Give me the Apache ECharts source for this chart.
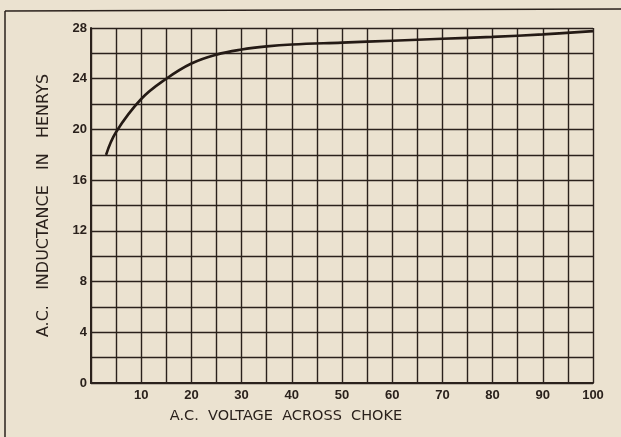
<!DOCTYPE html>
<html>
<head>
<meta charset="utf-8">
<script src="https://cdn.jsdelivr.net/npm/echarts@6/dist/echarts.min.js"></script>
<style>
  html, body { margin: 0; padding: 0; background: #ebe2d0; }
  #chart { width: 621px; height: 437px; }
</style>
</head>
<body>
<div id="chart"></div>
<script>
// A.C. voltage across choke (volts)
var voltage = [3, 5, 10, 15, 20, 25, 30, 35, 40, 50, 60, 70, 80, 90, 100];
// A.C. inductance (henrys)
var inductance = [18, 19.8, 22.4, 24.0, 25.2, 25.9, 26.3, 26.55, 26.7, 26.85, 27.0, 27.15, 27.3, 27.5, 27.75];
var xTickLabels = [10, 20, 30, 40, 50, 60, 70, 80, 90, 100];
var yTickLabels = [0, 4, 8, 12, 16, 20, 24, 28];

var ink = '#2a211c';
var font = '"Liberation Sans", Arial, sans-serif';
var nameFont = '"DejaVu Sans", sans-serif';

var points = voltage.map(function (v, i) { return [v, inductance[i]]; });

var chart = echarts.init(document.getElementById('chart'));
chart.setOption({
    backgroundColor: '#ebe2d0',
    animation: false,
    grid: { left: 91, right: 28, top: 28, bottom: 54 },
    graphic: [
        // outer frame of the printed figure
        { type: 'line', shape: { x1: 5, y1: 11, x2: 621, y2: 9 }, style: { stroke: ink, lineWidth: 1.5 } },
        { type: 'line', shape: { x1: 5, y1: 11, x2: 5, y2: 437 }, style: { stroke: ink, lineWidth: 1.5 } }
    ],
    xAxis: {
        type: 'value',
        min: 0,
        max: 100,
        interval: 5,
        name: 'A.C.  VOLTAGE  ACROSS  CHOKE',
        nameLocation: 'middle',
        nameGap: 26,
        nameTextStyle: { color: ink, fontFamily: nameFont, fontSize: 14.5, padding: [0, 112, 0, 0] },
        axisLine: { lineStyle: { color: ink, width: 2 } },
        axisTick: { show: false },
        axisLabel: {
            color: ink, fontFamily: font, fontSize: 13, fontWeight: 'bold', margin: 6,
            formatter: function (v) { return xTickLabels.indexOf(v) >= 0 ? String(v) : ''; }
        },
        splitLine: { show: true, lineStyle: { color: ink, width: 1.4 } }
    },
    yAxis: {
        type: 'value',
        min: 0,
        max: 28,
        interval: 2,
        name: 'A.C.   INDUCTANCE   IN   HENRYS',
        nameLocation: 'middle',
        nameGap: 39,
        nameTextStyle: { color: ink, fontFamily: nameFont, fontSize: 16 },
        axisLine: { show: true, lineStyle: { color: ink, width: 2 } },
        axisTick: { show: false },
        axisLabel: {
            color: ink, fontFamily: font, fontSize: 13, fontWeight: 'bold', margin: 4,
            formatter: function (v) { return yTickLabels.indexOf(v) >= 0 ? String(v) : ''; }
        },
        splitLine: { show: true, lineStyle: { color: ink, width: 1.4 } }
    },
    series: [
        {
            name: 'inductance',
            type: 'line',
            smooth: 0.4,
            showSymbol: false,
            lineStyle: { color: '#241a15', width: 2.6 },
            data: points
        }
    ]
});
</script>
</body>
</html>
